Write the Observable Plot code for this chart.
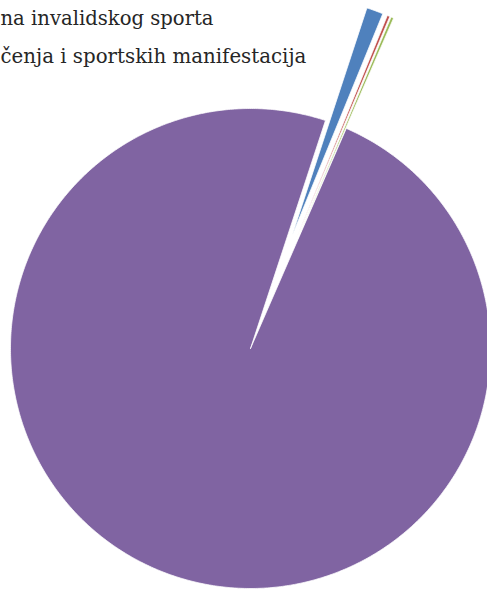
<!DOCTYPE html>
<html>
<head>
<meta charset="utf-8">
<script src="https://cdn.jsdelivr.net/npm/d3@7"></script>
<script src="https://cdn.jsdelivr.net/npm/@observablehq/plot@0.6"></script>
<style>
  html, body { margin: 0; padding: 0; background: #fff; overflow: hidden; }
  #chart svg { display: block; }
</style>
</head>
<body>
<div id="chart"></div>
<script>
// Slice data (Excel default palette order: blue, red, green, purple)
const categories = ["Kategorija 1", "Kategorija 2", "Kategorija 3", "Kategorija 4"];
const values = [1.12, 0.18, 0.18, 98.52];
const colors = ["#4F81BD", "#C0504D", "#9BBB59", "#8064A2"];
const explode = [0.5, 0.5, 0.5, 0];
const legendLabels = ["na invalidskog sporta", "čenja i sportskih manifestacija"];

// Pie layout (clockwise from 12 o'clock, first slice rotated)
const startDeg = 18.2;
const pie = d3.pie().sort(null).value(d => d)
  .startAngle(startDeg * Math.PI / 180)
  .endAngle((startDeg + 360) * Math.PI / 180);
const arcs = pie(values);

const points = [];
arcs.forEach((a, i) => {
  const mid = (a.startAngle + a.endAngle) / 2;
  const ox = explode[i] * Math.sin(mid), oy = explode[i] * Math.cos(mid);
  const pts = [[ox, oy]];
  const n = Math.max(4, Math.ceil((a.endAngle - a.startAngle) / (Math.PI / 360)));
  for (let k = 0; k <= n; k++) {
    const t = a.startAngle + (a.endAngle - a.startAngle) * k / n;
    pts.push([ox + Math.sin(t), oy + Math.cos(t)]);
  }
  pts.push(pts[0]);
  pts.forEach(([x, y]) => points.push({slice: categories[i], color: colors[i], x, y, order: i}));
});
// draw big slice first
const order = [3, 0, 1, 2];
const drawPts = order.flatMap(i => points.filter(p => p.order === i));

const chart = Plot.plot({
  width: 487,
  height: 590,
  margin: 0,
  x: {domain: [-250 / 240, 237 / 240], axis: null},
  y: {domain: [-242 / 240, 348 / 240], axis: null},
  color: {type: "identity"},
  marks: [
    Plot.line(drawPts, {x: "x", y: "y", z: "slice", fill: "color", stroke: "white", strokeWidth: 0.75, strokeLinejoin: "bevel", curve: "linear"}),
    Plot.text([legendLabels[0]], {text: d => d, frameAnchor: "top-left", textAnchor: "start", lineAnchor: "bottom", dx: 0, dy: 24.5, fontSize: 19.6, fontFamily: "DejaVu Serif", fill: "#262626"}),
    Plot.text([legendLabels[1]], {text: d => d, frameAnchor: "top-left", textAnchor: "start", lineAnchor: "bottom", dx: 0, dy: 62, fontSize: 19.8, fontFamily: "DejaVu Serif", fill: "#262626"})
  ]
});
document.getElementById("chart").appendChild(chart);
</script>
</body>
</html>
